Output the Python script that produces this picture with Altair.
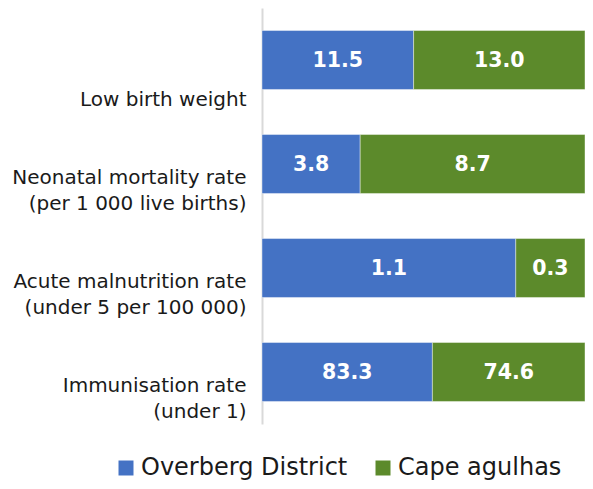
import altair as alt
import pandas as pd

categories = [
    "Low birth weight",
    "Neonatal mortality rate|(per 1 000 live births)",
    "Acute malnutrition rate|(under 5 per 100 000)",
    "Immunisation rate|(under 1)",
]
series = ["Overberg District", "Cape agulhas"]
overberg = [11.5, 3.8, 1.1, 83.3]
cape_agulhas = [13.0, 8.7, 0.3, 74.6]
colors = ["#4472C4", "#5C8A2B"]

rows = []
for i, c in enumerate(categories):
    rows.append({"category": c, "series": series[0], "order": 0, "value": overberg[i]})
    rows.append({"category": c, "series": series[1], "order": 1, "value": cape_agulhas[i]})
df = pd.DataFrame(rows)

base = alt.Chart(df).transform_stack(
    stack="value",
    groupby=["category"],
    as_=["x0", "x1"],
    offset="normalize",
    sort=[alt.SortField("order", order="ascending")],
).transform_calculate(
    mid="(datum.x0 + datum.x1) / 2",
    label="format(datum.value, '.1f')",
)

yenc = alt.Y(
    "category:N",
    sort=categories,
    title="",
    scale=alt.Scale(paddingInner=0.433, paddingOuter=0.2165),
    axis=alt.Axis(
        labelExpr="indexof(datum.label, '|') < 0 ? ['', datum.label] : split(datum.label, '|')",
        labelBaseline="bottom",
        labelOffset=24,
        labelLineHeight=26,
        labelFontSize=20,
        labelFont="DejaVu Sans",
        labelColor="#1a1a1a",
        labelPadding=16,
        labelLimit=0,
        ticks=False,
        domainColor="#d9d9d9",
        domainWidth=2,
        grid=False,
    ),
)

xscale = alt.Scale(domain=[0, 1])

bars = base.mark_bar(stroke="#ffffff", strokeWidth=0.7, strokeOpacity=0.6).encode(
    y=yenc,
    x=alt.X("x0:Q", scale=xscale, axis=None),
    x2="x1:Q",
    color=alt.Color(
        "series:N",
        scale=alt.Scale(domain=series, range=colors),
        sort=series,
        legend=alt.Legend(
            title=None,
            orient="none",
            legendX=-148,
            legendY=448,
            direction="horizontal",
            symbolType="square",
            symbolSize=225,
            symbolStrokeWidth=0,
            labelFontSize=24,
            labelFont="DejaVu Sans",
            labelColor="#1a1a1a",
            labelOffset=3,
            labelLimit=400,
            columnPadding=23,
            padding=0,
        ),
    ),
)

texts = base.mark_text(
    color="white",
    fontWeight="bold",
    fontSize=20.5,
    font="DejaVu Sans",
    baseline="middle",
    dy=1,
).encode(
    y=alt.Y("category:N", sort=categories),
    x=alt.X("mid:Q", scale=xscale),
    text="label:N",
)

chart = (
    alt.layer(bars, texts)
    .properties(
        width=323,
        height=416,
        padding={"left": 254, "top": 0, "right": 0, "bottom": 57},
        autosize=alt.AutoSizeParams(type="none"),
    )
    .configure_view(stroke=None)
)

chart.save("out.html", embed_options={"renderer": "svg", "actions": False})
